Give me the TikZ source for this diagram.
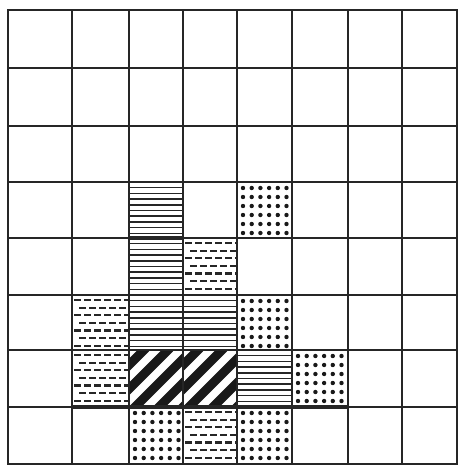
\documentclass[tikz,border=0pt]{standalone}
\begin{document}
\def\xs{{8,72,129,183,237,292,348,402,457}}
\def\ys{{10,68,126,182,238,295,350,407,464}}
\tikzset{
  gridline/.style={line width=1.8pt, black!85},
  hatchline/.style={line width=1.5pt, black!85},
  thickedge/.style={line width=4pt, black!85},
  stripeline/.style={line width=9pt, black!90},
  brickdash/.style={line width=2.2pt, black!85},
}
\newcommand\getcell[2]{%
  \pgfmathsetmacro\xa{\xs[#1]}\pgfmathsetmacro\xb{\xs[#1+1]}%
  \pgfmathsetmacro\ya{\ys[#2]}\pgfmathsetmacro\yb{\ys[#2+1]}}
\newcommand\cellH[2]{\getcell{#1}{#2}%
  \foreach \k in {1,...,9} \draw[hatchline] (\xa,{\ya+\k*5.7}) -- (\xb,{\ya+\k*5.7});}
\newcommand\cellD[2]{\getcell{#1}{#2}%
  \foreach \i in {0,...,5} \foreach \j in {0,...,5}
    \fill[black!90] ({\xa+6+\i*8.7},{\ya+6+\j*9}) circle (2.2);}
\newcommand\cellB[2]{\getcell{#1}{#2}%
  \begin{scope}\clip (\xa,\ya) rectangle (\xb,\yb);
  \foreach \j in {0,...,6} {
    \pgfmathsetmacro\yy{\ya+5+\j*7.6}
    \pgfmathsetmacro\off{mod(\j,2)*5}
    \foreach \i in {0,...,6}
      \draw[brickdash] ({\xa+2+\off+\i*10},\yy) -- ({\xa+2+\off+\i*10+7},\yy);
  }
  \end{scope}}
\newcommand\cellS[2]{\getcell{#1}{#2}%
  \begin{scope}\clip (\xa,\ya) rectangle (\xb,\yb);
  \foreach \t in {-3,...,2}
    \draw[stripeline] ({\xa+\t*24+4},{\yb+2}) -- ({\xa+\t*24+4+\yb-\ya+4},{\ya-2});
  \end{scope}}
\begin{tikzpicture}[x=1pt,y=-1pt]
\useasboundingbox (0,0) rectangle (470,473);
\fill[white] (0,0) rectangle (470,473);
% patterned cells
\cellH{2}{3}\cellD{4}{3}
\cellH{2}{4}\cellB{3}{4}
\cellB{1}{5}\cellH{2}{5}\cellH{3}{5}\cellD{4}{5}
\cellB{1}{6}\cellS{2}{6}\cellS{3}{6}\cellH{4}{6}\cellD{5}{6}
\cellD{2}{7}\cellB{3}{7}\cellD{4}{7}
% grid
\foreach \i in {0,...,8} {
  \pgfmathsetmacro\xx{\xs[\i]}
  \draw[gridline] (\xx,10) -- (\xx,464);
  \pgfmathsetmacro\yy{\ys[\i]}
  \draw[gridline] (8,\yy) -- (457,\yy);
}
\draw[line width=2.2pt, black!85] (8,10) rectangle (457,464);
% heavier edges
\draw[thickedge] (72,407) -- (348,407);
\draw[thickedge] (129,238) -- (183,238);
\draw[line width=2.8pt, black!85] (72,350) -- (237,350);
\draw[line width=2.8pt, black!85] (129,295) -- (237,295);
\end{tikzpicture}
\end{document}
